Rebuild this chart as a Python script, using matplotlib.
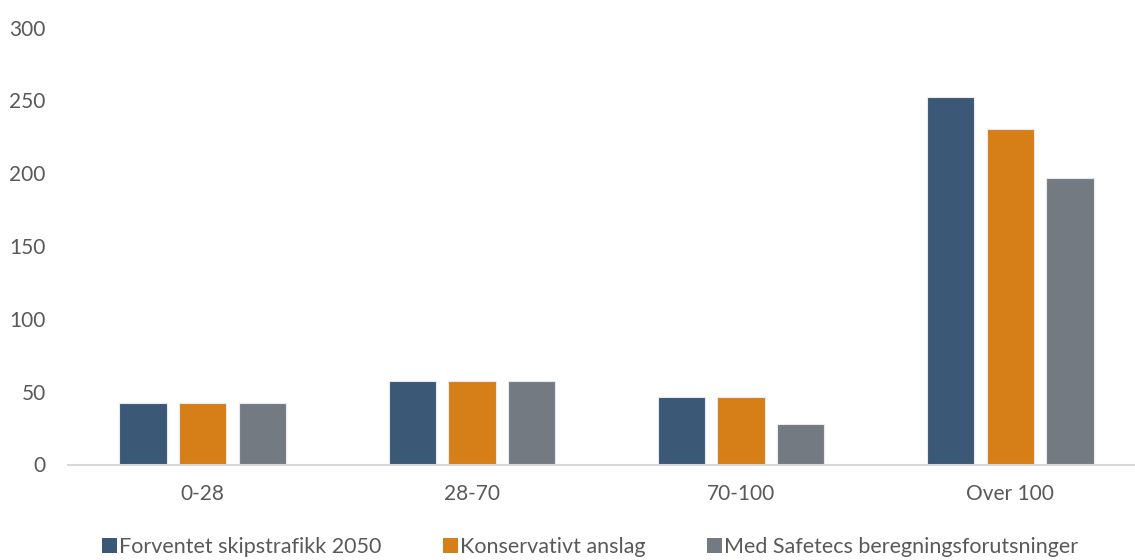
import matplotlib
matplotlib.use("Agg")
import matplotlib.pyplot as plt
import numpy as np
from matplotlib.patches import Patch

categories = ["0-28", "28-70", "70-100", "Over 100"]
series_names = [
    "Forventet skipstrafikk 2050",
    "Konservativt anslag",
    "Med Safetecs beregningsforutsninger",
]
forventet = [42, 57, 46, 252]
konservativt = [42, 57, 46, 230]
safetec = [42, 57, 28, 197]
colors = ["#3B5876", "#D67E17", "#737A82"]

plt.rcParams["font.family"] = ["Lato", "DejaVu Sans"]

fig = plt.figure(figsize=(11.35, 5.6), dpi=100)
ax = fig.add_axes([68 / 1135, 95.5 / 560, 1 - 68 / 1135, 437 / 560])

x = np.arange(len(categories))
step = 0.2216
width = 0.176
for i, vals in enumerate([forventet, konservativt, safetec]):
    ax.bar(x + (i - 1) * step, vals, width, color=colors[i],
           edgecolor="#E6E9EE", linewidth=0.8, zorder=2)

ax.set_xlim(-0.5, 3.5 - 10 / 269)
ax.set_ylim(0, 300)
ax.set_yticks(range(0, 301, 50))
ax.set_xticks(x)
ax.set_xticklabels(categories)

for s in ["top", "right", "left"]:
    ax.spines[s].set_visible(False)
ax.spines["bottom"].set_color("#D9D9D9")
ax.spines["bottom"].set_linewidth(1.5)

ax.tick_params(axis="both", length=0, labelsize=15, labelcolor="#595959")
ax.tick_params(axis="y", pad=16)
ax.tick_params(axis="x", pad=14)

handles = [Patch(facecolor=c, edgecolor="none") for c in colors]
fig.legend(handles, series_names, loc="center", ncol=3,
           bbox_to_anchor=(590 / 1135, 13 / 560), frameon=False,
           fontsize=15.5, labelcolor="#595959", handlelength=0.7,
           handleheight=0.7, handletextpad=0.1, columnspacing=2.85)

fig.savefig("out.png", dpi=100)
